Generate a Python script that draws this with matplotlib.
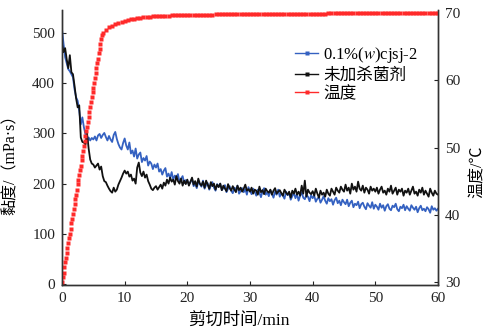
import numpy as np
import matplotlib
matplotlib.use("Agg")
import matplotlib.pyplot as plt
from matplotlib.lines import Line2D

plt.rcParams['font.family'] = ['Liberation Serif', 'Noto Sans CJK SC', 'DejaVu Sans']
plt.rcParams['mathtext.fontset'] = 'stix'
plt.rcParams['axes.unicode_minus'] = False

# viscosity, mPa·s, one value every 0.25 min (0..60)
visc_cjsj = [
    508, 478, 452, 440, 428, 424, 418, 412, 388, 372, 365, 345, 318, 332, 312, 298, 282, 292, 286, 291,
    288, 294, 286, 296, 299, 291, 297, 301, 293, 286, 295, 288, 283, 297, 303, 289, 279, 272, 268, 281,
    290, 276, 268, 282, 260, 266, 254, 270, 250, 258, 262, 243, 251, 246, 255, 236, 244, 240, 229, 238,
    232, 240, 224, 229, 218, 226, 231, 214, 220, 211, 223, 208, 216, 212, 219, 204, 210, 215, 201, 207,
    206, 198, 203, 210, 195, 200, 191, 204, 199, 194, 206, 190, 197, 201, 188, 196, 203, 192, 186, 199,
    194, 200, 187, 191, 197, 183, 190, 195, 186, 181, 192, 188, 196, 180, 185, 191, 183, 189, 178, 193,
    186, 179, 190, 184, 176, 188, 182, 173, 185, 191, 178, 183, 175, 187, 180, 172, 184, 178, 188, 174,
    181, 176, 170, 184, 177, 181, 168, 175, 182, 171, 179, 166, 176, 183, 172, 169, 178, 174, 165, 177,
    171, 176, 164, 170, 173, 162, 168, 175, 166, 160, 171, 165, 169, 158, 167, 172, 161, 166, 157, 168,
    163, 159, 168, 155, 162, 166, 153, 160, 157, 164, 151, 159, 162, 154, 149, 161, 156, 152, 163, 150,
    158, 154, 148, 160, 152, 157, 146, 155, 159, 150, 147, 156, 153, 160, 149, 145, 154, 151, 158, 147,
    155, 150, 146, 157, 152, 148, 154, 143, 151, 156, 147, 150, 145, 153, 149, 142, 155, 148, 151, 146,
    150,
]
visc_blank = [
    478, 462, 470, 448, 430, 456, 422, 418, 395, 370, 352, 356, 292, 283, 282, 278, 300, 270, 248, 240,
    238, 232, 236, 240, 228, 234, 215, 205, 203, 196, 190, 185, 182, 192, 184, 188, 198, 205, 212, 220,
    226, 220, 224, 214, 218, 206, 210, 200, 232, 242, 222, 215, 224, 212, 218, 205, 198, 190, 187, 192,
    195, 188, 193, 198, 190, 202, 196, 208, 200, 212, 204, 208, 198, 215, 205, 200, 210, 196, 206, 199,
    208, 196, 204, 212, 198, 205, 194, 210, 200, 196, 204, 192, 206, 198, 190, 203, 195, 200, 188, 198,
    193, 200, 187, 196, 190, 185, 199, 191, 186, 195, 188, 183, 196, 187, 192, 184, 190, 198, 186, 189,
    184, 192, 180, 188, 186, 178, 194, 183, 187, 179, 190, 185, 182, 188, 178, 186, 191, 180, 184, 187,
    181, 176, 188, 182, 178, 184, 172, 186, 180, 190, 178, 184, 176, 196, 180, 206, 174, 188, 182, 179,
    185, 176, 190, 180, 172, 186, 178, 182, 174, 188, 180, 176, 190, 184, 178, 192, 186, 182, 194, 188,
    184, 198, 186, 192, 180, 200, 188, 194, 184, 204, 190, 186, 196, 182, 192, 188, 180, 194, 186, 190,
    184, 192, 180, 188, 194, 182, 186, 178, 190, 184, 196, 180, 186, 192, 178, 188, 184, 190, 176, 186,
    182, 190, 178, 186, 194, 180, 184, 176, 188, 182, 192, 178, 186, 180, 174, 190, 182, 176, 186, 180,
    178,
]
visc_step = 0.25

# temperature, °C: ramp sampled every 0.125 min, then every 0.5 min from 6.5 min
temp_ramp = [
    30.0, 30.7, 31.4, 32.2, 32.9, 33.6, 34.3, 35.1, 35.8, 36.5, 37.2, 37.9, 38.7,
    39.4, 40.1, 40.8, 41.6, 42.3, 43.0, 43.7, 44.5, 45.2, 45.9, 46.6, 47.3, 48.1,
    48.8, 49.5, 50.2, 51.0, 51.7, 52.4, 53.1, 53.8, 54.6, 55.3, 56.0, 56.7, 57.5,
    58.2, 58.9, 59.6, 60.3, 61.1, 61.8, 62.5, 63.2, 64.0, 64.7, 65.4, 66.1, 66.8,
]
temp_hold = [
    67.1, 67.5, 67.9, 68.1, 68.35, 68.55, 68.7, 68.85, 68.95, 69.05,
    69.15, 69.2, 69.3, 69.35, 69.4, 69.45, 69.5, 69.5, 69.55, 69.6,
    69.6, 69.62, 69.65, 69.65, 69.68, 69.7, 69.7,
    69.72, 69.72, 69.74, 69.75, 69.75, 69.76, 69.77, 69.78, 69.78, 69.8,
    69.8, 69.8, 69.81, 69.82, 69.82, 69.83, 69.83, 69.84, 69.84, 69.85,
    69.85, 69.86, 69.86, 69.86, 69.87, 69.87, 69.87, 69.88, 69.88, 69.88,
    69.89, 69.89, 69.89, 69.9, 69.9, 69.9, 69.9, 69.91, 69.91, 69.91,
    69.91, 69.92, 69.92, 69.92, 69.92, 69.93, 69.93, 69.93, 69.93, 69.93,
    69.94, 69.94, 69.94, 69.94, 69.94, 69.94, 69.95, 69.95, 69.95, 69.95,
    69.95, 69.95, 69.95, 69.95, 69.95, 69.96, 69.96, 69.96, 69.96, 69.96,
    69.96, 69.97, 69.97, 69.97, 69.97, 69.97, 69.97, 69.97, 69.97, 69.97, 69.97,
]
ramp_step = 0.125
hold_start, hold_step = 6.5, 0.5

labels = [r'0.1%($\mathit{w}$)cjsj-2', '未加杀菌剂', '温度']
colors = ['#3461c1', '#111111', '#ff2a2a']

t_visc = np.arange(len(visc_cjsj)) * visc_step
t_visc2 = np.arange(len(visc_blank)) * visc_step
t_temp = np.concatenate([np.arange(len(temp_ramp)) * ramp_step,
                         hold_start + np.arange(len(temp_hold)) * hold_step])
temp = temp_ramp + temp_hold

fig = plt.figure(figsize=(4.85, 3.34), dpi=100)
ax = fig.add_axes([62/485, 1-285/334, 376/485, 275/334])
ax2 = ax.twinx()

ax.plot(t_visc, visc_cjsj, color=colors[0], lw=1.3)
ax.plot(t_visc2, visc_blank, color=colors[1], lw=1.3)
ax2.plot(t_temp, temp, ls='none', marker='s', ms=2.8, mec='none', color=colors[2])

ax.set_xlim(0, 60)
ax.set_ylim(-2, 546)
ax2.set_ylim(29.55, 70.45)
ax.set_xticks(range(0, 61, 10))
ax.set_yticks(range(0, 501, 100))
ax2.set_yticks(range(30, 71, 10))

for a in (ax, ax2):
    a.spines['top'].set_visible(False)
    for s in a.spines.values():
        s.set_color('#333333')
        s.set_linewidth(1.0)
    a.tick_params(direction='in', length=3, width=0.8, labelsize=11, pad=5, colors='#222222')

ax.set_xlabel('剪切时间/min', fontsize=12.5)
ax.xaxis.set_label_coords(0.47, -0.1)
ax.set_ylabel('黏度/（mPa·s）', fontsize=11.5)
ax.yaxis.set_label_coords(-0.115, 0.45)
ax2.set_ylabel('温度/℃', fontsize=11.5)
ax2.yaxis.set_label_coords(1.085, 0.41)

handles = [Line2D([], [], color=c, lw=1.0, marker='s', ms=2.5, mec='none') for c in colors]
ax2.legend(handles, labels, loc='upper left', bbox_to_anchor=(295/485, 1-45/334),
           bbox_transform=fig.transFigure, frameon=False, fontsize=12,
           borderpad=0, borderaxespad=0, handlelength=1.4, handletextpad=0.3,
           labelspacing=0.15)

fig.savefig('out.png', dpi=100)
